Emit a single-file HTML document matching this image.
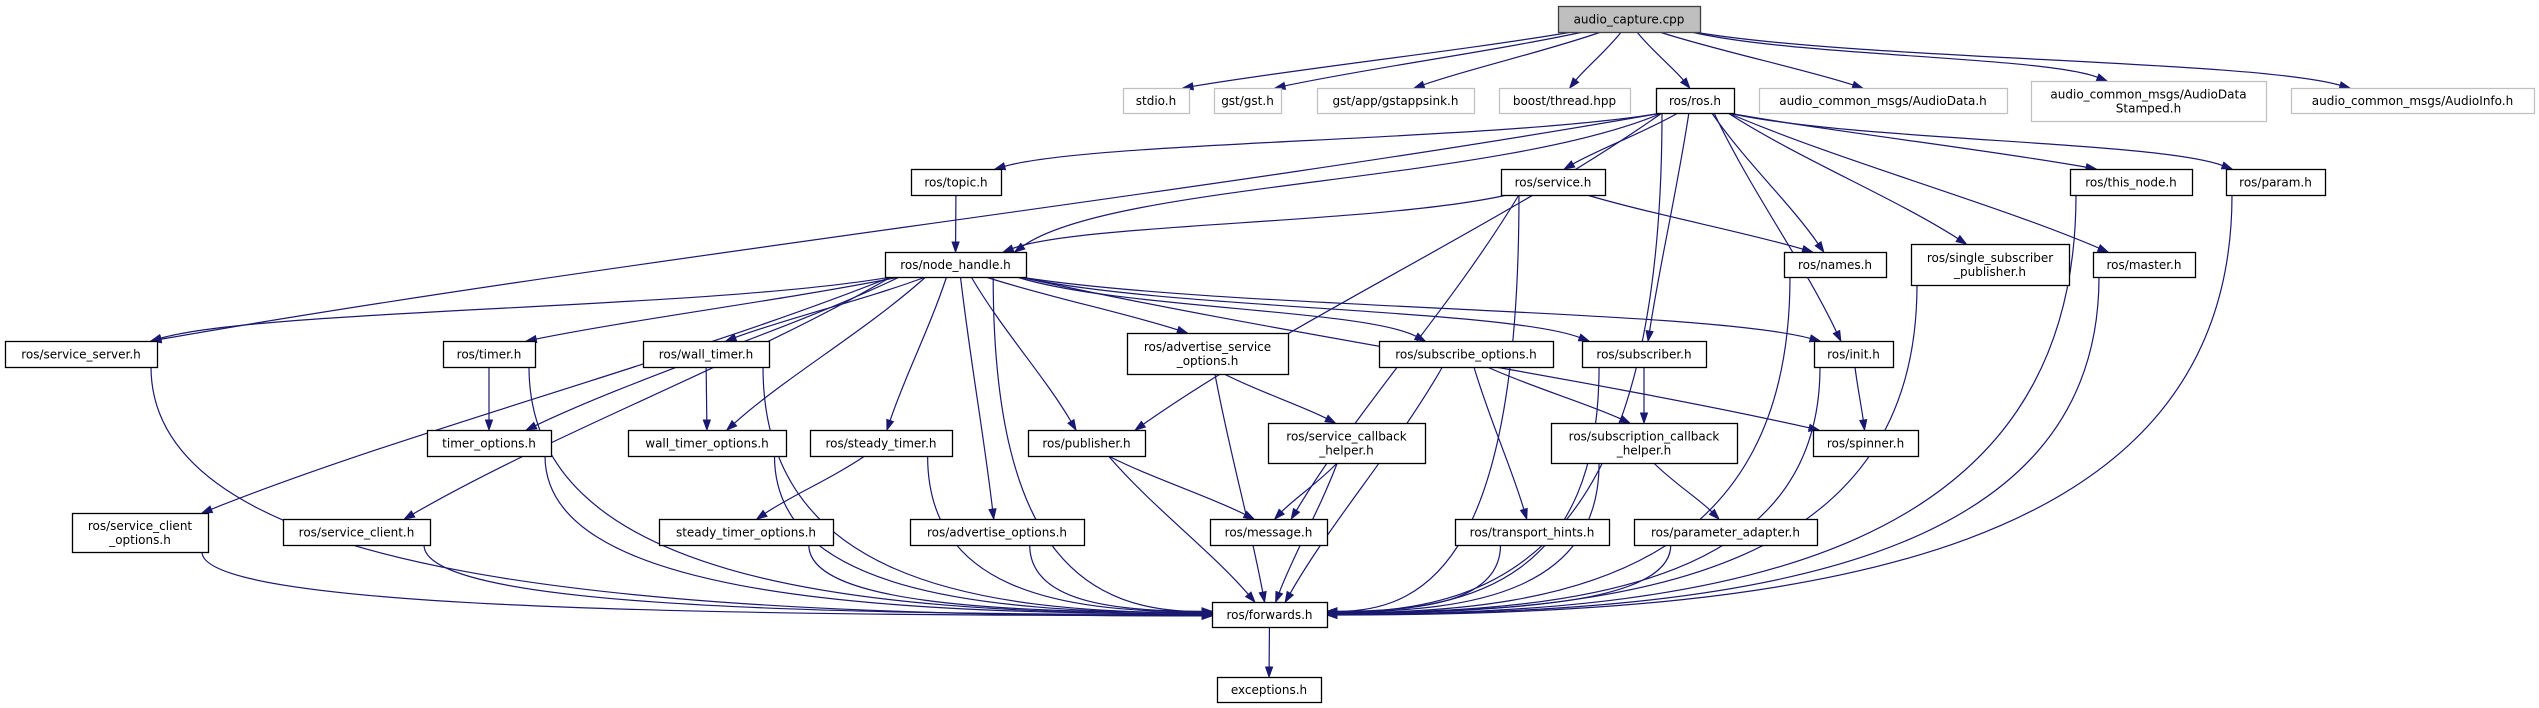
<!DOCTYPE html>
<html><head><meta charset="utf-8"><style>
html,body{margin:0;padding:0;background:#fff;}
svg{display:block}
text{font-family:"DejaVu Sans","Liberation Sans",sans-serif;font-size:12px;fill:#000}
</style></head><body>
<svg id="g" width="2539" height="708" viewBox="0 0 2539 708" xmlns="http://www.w3.org/2000/svg">
<g id="edges"></g><g id="nodes"></g>
</svg>
<script>
const N={
root:["audio_capture.cpp",1558,6,1700,32,"r"],
stdio:["stdio.h",1123,88,1189,113,"g"],
gst:["gst/gst.h",1214,88,1281,113,"g"],
appsink:["gst/app/gstappsink.h",1317,88,1474,113,"g"],
boost:["boost/thread.hpp",1499,88,1630,113,"g"],
ros:["ros/ros.h",1656,88,1734,113,"n"],
ad:["audio_common_msgs/AudioData.h",1759,88,2007,113,"g"],
ads:["audio_common_msgs/AudioData|Stamped.h",2031,81,2266,121,"g"],
ai:["audio_common_msgs/AudioInfo.h",2291,88,2534,113,"g"],
topic:["ros/topic.h",911,169,1001,195,"n"],
service:["ros/service.h",1501,169,1605,195,"n"],
thisnode:["ros/this_node.h",2070,169,2192,195,"n"],
param:["ros/param.h",2226,169,2325,195,"n"],
nh:["ros/node_handle.h",885,252,1026,277,"n"],
names:["ros/names.h",1784,252,1886,277,"n"],
ssp:["ros/single_subscriber|_publisher.h",1911,244,2069,285,"n"],
master:["ros/master.h",2093,252,2195,277,"n"],
ss:["ros/service_server.h",5,341,157,367,"n"],
timer:["ros/timer.h",443,341,535,367,"n"],
wt:["ros/wall_timer.h",643,341,769,367,"n"],
aso:["ros/advertise_service|_options.h",1127,333,1288,374,"n"],
so:["ros/subscribe_options.h",1379,341,1553,367,"n"],
sub:["ros/subscriber.h",1582,341,1706,367,"n"],
init:["ros/init.h",1814,341,1893,367,"n"],
to:["timer_options.h",427,430,551,456,"n"],
wto:["wall_timer_options.h",628,430,786,456,"n"],
st:["ros/steady_timer.h",810,430,952,456,"n"],
pub:["ros/publisher.h",1028,430,1145,456,"n"],
sch:["ros/service_callback|_helper.h",1268,423,1425,463,"n"],
scbh:["ros/subscription_callback|_helper.h",1551,423,1737,463,"n"],
spin:["ros/spinner.h",1813,430,1918,456,"n"],
sco:["ros/service_client|_options.h",72,513,208,552,"n"],
sc:["ros/service_client.h",283,519,430,545,"n"],
sto:["steady_timer_options.h",659,519,833,545,"n"],
ao:["ros/advertise_options.h",910,519,1084,545,"n"],
msg:["ros/message.h",1210,519,1327,545,"n"],
th:["ros/transport_hints.h",1455,519,1609,545,"n"],
pa:["ros/parameter_adapter.h",1634,519,1817,545,"n"],
fw:["ros/forwards.h",1212,602,1327,627,"n"],
exc:["exceptions.h",1217,677,1321,702,"n"]
};
const E=[
["root","stdio"],["root","gst"],["root","appsink"],["root","boost"],["root","ros"],["root","ad"],["root","ads"],["root","ai"],
["ros","topic"],["ros","nh"],["ros","ss"],["ros","service"],["ros","pub"],["ros","names"],["ros","sub"],["ros","init"],["ros","ssp"],["ros","master"],["ros","thisnode"],["ros","param"],["ros","fw"],
["topic","nh"],["service","nh"],["service","names"],["service","msg"],["service","fw"],
["nh","ss"],["nh","sco"],["nh","sc"],["nh","fw"],["nh","timer"],["nh","to"],["nh","wt"],["nh","wto"],["nh","st"],["nh","ao"],["nh","pub"],["nh","aso"],["nh","so"],["nh","sub"],["nh","init"],["nh","spin"],
["timer","to"],["timer","fw"],["wt","wto"],["wt","fw"],["st","sto"],["st","fw"],["pub","msg"],["pub","fw"],
["aso","sch"],["aso","fw"],["sch","msg"],["sch","fw"],["so","scbh"],["so","th"],["so","fw"],["sub","scbh"],["sub","fw"],
["scbh","pa"],["scbh","fw"],["init","spin"],["init","fw"],
["ss","fw"],["sco","fw"],["sc","fw"],["to","fw"],["wto","fw"],["sto","fw"],["ao","fw"],["th","fw"],["pa","fw"],
["names","fw"],["ssp","fw"],["master","fw"],["thisnode","fw"],["param","fw"],["fw","exc"]
];
const NS="http://www.w3.org/2000/svg";
const eg=document.getElementById("edges"),ng=document.getElementById("nodes");
function cl(v,a,b){return Math.max(a,Math.min(b,v));}
let html="";
for(const [s,t] of E){
 const A=N[s],B=N[t];
 const acx=(A[1]+A[3])/2,bcx=(B[1]+B[3])/2;
 let sx=cl(acx+(bcx-acx)*0.12,A[1]+6,A[3]-6),sy=A[4];
 let ex,ey,c1,c2;
 const dx=bcx-acx,dy=B[2]-sy;
 if(t==="fw"&&Math.abs(dx)>250){
   const left=dx>0;
   ex=left?B[1]:B[3];ey=B[2]+8+cl(Math.abs(dx)/200,0,10);
   c1=[sx,sy+(ey-sy)*0.85];c2=[ex+(left?-1:1)*Math.abs(ex-sx)*0.55,ey];
 } else {
   ex=cl(bcx-dx*0.08,B[1]+6,B[3]-6);ey=B[2];
   if(Math.abs(dx)>500&&dy<150){c1=[sx+(ex-sx)*0.25,sy+dy*0.5];c2=[ex+(sx-ex)*0.15,ey-dy*0.5];}
   else {c1=[sx+(ex-sx)*0.3,sy+dy*0.35];c2=[ex-(ex-sx)*0.3,ey-dy*0.35];}
 }
 let vx=ex-c2[0],vy=ey-c2[1];const L=Math.hypot(vx,vy)||1;vx/=L;vy/=L;
 const bx=ex-vx*10,by=ey-vy*10,px=-vy*3.5,py=vx*3.5;
 html+=`<path d="M${sx},${sy} C${c1[0]},${c1[1]} ${c2[0]},${c2[1]} ${bx},${by}" fill="none" stroke="#191970" stroke-width="1.2"/>`;
 html+=`<polygon points="${ex},${ey} ${bx+px},${by+py} ${bx-px},${by-py}" fill="#191970" stroke="#191970"/>`;
}
eg.innerHTML=html;
let nh="";
for(const k in N){
 const [l,x1,y1,x2,y2,ty]=N[k];
 const fill=ty==="r"?"#bfbfbf":"#fff",st=ty==="g"?"#bfbfbf":(ty==="r"?"#404040":"#000");
 nh+=`<rect x="${x1+0.5}" y="${y1+0.5}" width="${x2-x1}" height="${y2-y1}" fill="${fill}" stroke="${st}" stroke-width="${ty==='g'?1.2:1.3}"/>`;
 const lines=l.split("|"),cx=(x1+x2)/2,cy=(y1+y2)/2;
 lines.forEach((s,i)=>{const y=cy+(i-(lines.length-1)/2)*14+4.5;
  nh+=`<text x="${cx}" y="${y}" text-anchor="middle">${s}</text>`;});
}
ng.innerHTML=nh;
</script>
</body></html>
